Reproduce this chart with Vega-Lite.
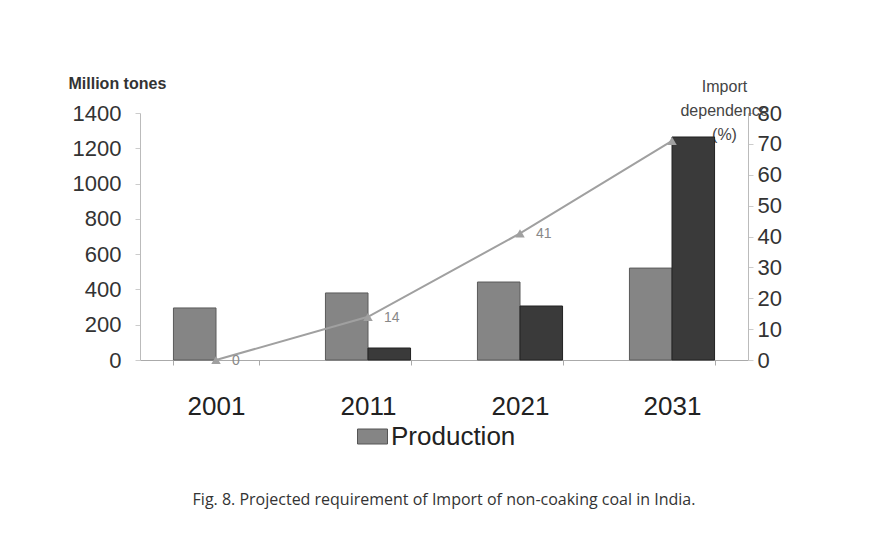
{
  "$schema": "https://vega.github.io/schema/vega-lite/v6.json",
  "width": 608,
  "height": 247,
  "autosize": {"type": "none"},
  "padding": {"left": 140, "top": 113, "right": 122, "bottom": 190},
  "background": "white",
  "config": {
    "view": {"stroke": null},
    "font": "Liberation Sans"
  },
  "title": {
    "text": "Fig. 8. Projected requirement of  Import of non-coaking coal in India.",
    "orient": "bottom",
    "anchor": "middle",
    "font": "Open Sans",
    "fontSize": 16,
    "fontWeight": "normal",
    "color": "#333333",
    "offset": 42
  },
  "datasets": {
    "coal": [
      {"year": "2001", "series": "Production", "value": 295},
      {"year": "2011", "series": "Production", "value": 380},
      {"year": "2011", "series": "Import", "value": 68},
      {"year": "2021", "series": "Production", "value": 442},
      {"year": "2021", "series": "Import", "value": 306},
      {"year": "2031", "series": "Production", "value": 521},
      {"year": "2031", "series": "Import", "value": 1264}
    ],
    "dep": [
      {"year": "2001", "dep": 0, "label": "0"},
      {"year": "2011", "dep": 14, "label": "14"},
      {"year": "2021", "dep": 41, "label": "41"},
      {"year": "2031", "dep": 71, "label": ""}
    ]
  },
  "layer": [
    {
      "data": {"name": "coal"},
      "mark": {"type": "bar", "strokeWidth": 1},
      "encoding": {
        "x": {
          "field": "year", "type": "nominal",
          "scale": {"paddingInner": 0.44, "paddingOuter": 0.22},
          "axis": {
            "title": null, "labelAngle": 0, "labelFontSize": 26, "labelColor": "#222222",
            "labelPadding": 28, "tickBand": "extent", "tickSize": 5, "tickColor": "#aaaaaa",
            "domainColor": "#aaaaaa", "labelFont": "Liberation Sans"
          }
        },
        "xOffset": {"field": "series", "type": "nominal", "sort": ["Production", "Import"]},
        "y": {
          "field": "value", "type": "quantitative",
          "scale": {"domain": [0, 1400]},
          "axis": {
            "orient": "left", "values": [0, 200, 400, 600, 800, 1000, 1200, 1400], "format": "d",
            "grid": false, "labelFontSize": 22, "labelColor": "#333333", "labelPadding": 14,
            "tickColor": "#cccccc", "tickSize": 5, "domainColor": "#bbbbbb",
            "title": "Million tones", "titleAngle": 0, "titleAlign": "left", "titleBaseline": "middle",
            "titleX": -72, "titleY": -30, "titleFontSize": 16, "titleFontWeight": "bold", "titleColor": "#333333"
          }
        },
        "color": {
          "field": "series", "type": "nominal",
          "scale": {"domain": ["Production", "Import"], "range": ["#858585", "#3a3a3a"]},
          "legend": {
            "values": ["Production"], "title": null, "orient": "none",
            "legendX": 217, "legendY": 308, "labelFontSize": 26, "labelColor": "#222222",
            "symbolType": "M-1,-0.5H1V0.5H-1Z", "symbolSize": 900, "symbolStrokeColor": "#555555", "symbolStrokeWidth": 1,
            "labelOffset": 3
          }
        },
        "stroke": {
          "field": "series", "type": "nominal",
          "scale": {"domain": ["Production", "Import"], "range": ["#5a5a5a", "#222222"]},
          "legend": null
        }
      }
    },
    {
      "data": {"name": "dep"},
      "encoding": {
        "x": {"field": "year", "type": "nominal"},
        "y": {
          "field": "dep", "type": "quantitative",
          "scale": {"domain": [0, 80]},
          "axis": {
            "orient": "right", "values": [0, 10, 20, 30, 40, 50, 60, 70, 80],
            "grid": false, "labelFontSize": 22, "labelColor": "#333333", "labelPadding": 4,
            "tickColor": "#cccccc", "tickSize": 5, "domainColor": "#bbbbbb",
            "title": ["Import", "dependence", "(%)"], "titleAngle": 0, "titleAlign": "center",
            "titleBaseline": "top", "titleX": -24, "titleY": -35, "titleFontSize": 16,
            "titleFontWeight": "normal", "titleColor": "#444444", "titleLineHeight": 24
          }
        }
      },
      "layer": [
        {"mark": {"type": "line", "color": "#a0a0a0", "strokeWidth": 2}},
        {"mark": {"type": "point", "shape": "triangle-up", "filled": true, "color": "#a0a0a0", "size": 90, "opacity": 1}},
        {"mark": {"type": "text", "align": "left", "dx": 16, "dy": 1, "fontSize": 14, "fill": "#888888"},
         "encoding": {"text": {"field": "label"}}}
      ]
    }
  ],
  "resolve": {"scale": {"y": "independent", "color": "independent"}}
}
